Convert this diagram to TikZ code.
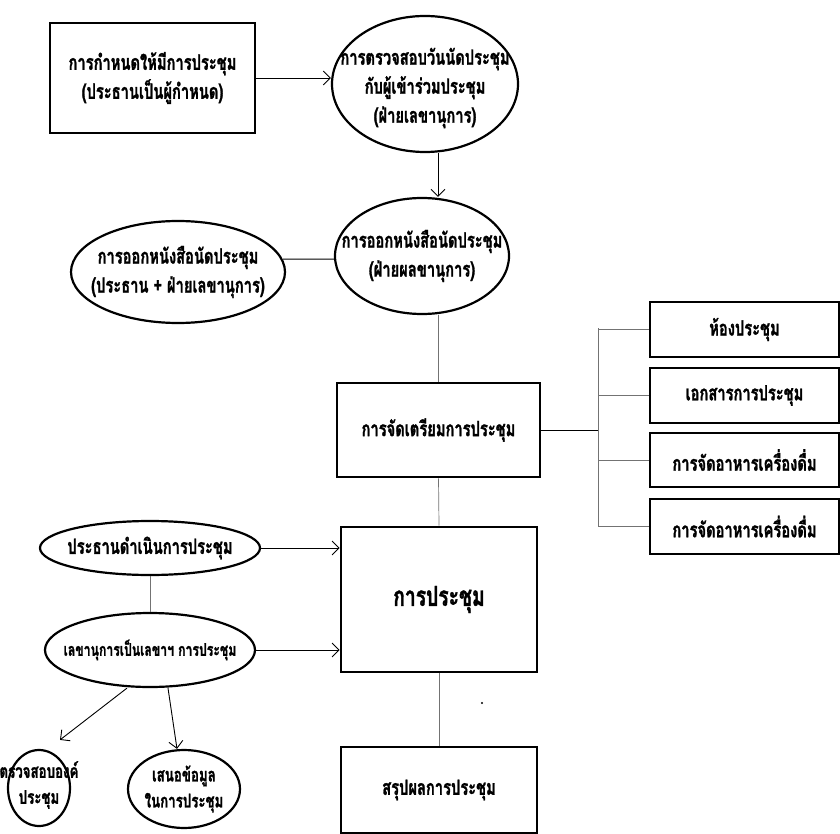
\documentclass[tikz,border=0pt]{standalone}
\usepackage{fontspec}
\newfontfamily\thai[Script=Thai,FakeStretch=0.7,FakeBold=1.3]{Loma}
\usetikzlibrary{shapes.geometric,arrows.meta}
\begin{document}
\begin{tikzpicture}[x=1pt,y=-1pt,
  txt/.style={font=\thai\bfseries\fontsize{21}{29}\selectfont, align=center, inner sep=0pt},
  stxt/.style={font=\thai\bfseries\fontsize{17.5}{26}\selectfont, align=center, inner sep=0pt},
  mtxt/.style={font=\thai\bfseries\fontsize{19}{26}\selectfont, align=center, inner sep=0pt},
  box/.style={draw, line width=2.6pt, rectangle, inner sep=0pt, txt},
  ell/.style={draw, line width=2.2pt, ellipse, inner sep=0pt},
  arr/.style={-{Straight Barb[length=7pt,width=14pt]}, line width=0.9pt},
  ln/.style={line width=0.9pt},
  gl/.style={line width=0.7pt, draw=black!55}]
\useasboundingbox (0,0) rectangle (840,834);

% top row
\node[box, minimum width=205pt, minimum height=110pt] (b1) at (152.5,78)
  {การกำหนดให้มีการประชุม\\(ประธานเป็นผู้กำหนด)};
\node[ell, minimum width=186pt, minimum height=136pt,
  label={[txt,yshift=-4pt]center:{การตรวจสอบวันนัดประชุม\\กับผู้เข้าร่วมประชุม\\(ฝ่ายเลขานุการ)}}] (e2) at (425,84) {};

% second row
\node[ell, minimum width=214pt, minimum height=102pt,
  label={[txt]center:{การออกหนังสือนัดประชุม\\(ประธาน + ฝ่ายเลขานุการ)}}] (e4) at (178,272) {};
\node[ell, minimum width=174pt, minimum height=116pt,
  label={[txt]center:{การออกหนังสือนัดประชุม\\(ฝ่ายผลขานุการ)}}] (e3) at (422,256) {};

% preparation
\node[box, minimum width=203pt, minimum height=94pt] (b5) at (438.5,430) {การจัดเตรียมการประชุม};

% right list
\node[box, minimum width=189pt, minimum height=55pt] (r1) at (744.5,329.5) {ห้องประชุม};
\node[box, minimum width=189pt, minimum height=55pt] (r2) at (744.5,395.5) {เอกสารการประชุม};
\node[box, minimum width=189pt, minimum height=54pt] (r3) at (744.5,460) {การจัดอาหารเครื่องดื่ม};
\node[box, minimum width=189pt, minimum height=55pt] (r4) at (744.5,526.5) {การจัดอาหารเครื่องดื่ม};
\coordinate (bt) at (598,328);
\coordinate (bb) at (598,527);

% meeting
\node[box, minimum width=196pt, minimum height=145pt, font=\thai\bfseries\fontsize{27.5}{29}\selectfont] (bm) at (439,599.5) {การประชุม};
\node[box, minimum width=196pt, minimum height=86pt] (bf) at (439,790) {สรุปผลการประชุม};

% left lower
\node[ell, minimum width=220pt, minimum height=54pt,
  label={[txt]center:{ประธานดำเนินการประชุม}}] (e6) at (150,548) {};
\node[ell, minimum width=210pt, minimum height=74pt,
  label={[stxt]center:{เลขานุการเป็นเลขาฯ การประชุม}}] (e7) at (150,650) {};
\node[ell, minimum width=62pt, minimum height=76pt,
  label={[mtxt,yshift=3pt]center:{ตรวจสอบองค์\\ประชุม}}] (e8) at (39,788) {};
\node[ell, minimum width=112pt, minimum height=78pt,
  label={[mtxt]center:{เสนอข้อมูล\\ในการประชุม}}] (e9) at (184,789) {};

% connectors
\draw[arr] (b1.east) -- (b1.east -| e2.west);
\draw[arr] ([xshift=13pt]e2.south) -- ([xshift=16pt]e3.north);
\draw[ln] (e4.7) -- (e3.182);
\draw[gl] (e3.south -| b5.north) -- (b5.north);
\draw[ln] (b5.east) -- (b5.east -| bt);
\draw[gl] (bt) -- (bb);
\draw[gl] (r1.west -| bt) -- (r1.west);
\draw[gl] (r2.west -| bt) -- (r2.west);
\draw[gl] (r3.west -| bt) -- (r3.west);
\draw[gl] (r4.west -| bt) -- (r4.west);
\draw[gl] (b5.south) -- (bm.north);
\draw[gl] (bm.south) -- (bf.north);
\draw[arr] (e6.east) -- (e6.east -| bm.west);
\draw[arr] (e7.east) -- (e7.east -| bm.west);
\draw[gl] (e6.south) -- (e7.north);
\draw[arr] ([xshift=-23pt]e7.south) -- ([xshift=21pt,yshift=9pt]e8.north);
\draw[arr] ([xshift=18pt]e7.south) -- ([xshift=-7pt]e9.north);
\fill (482,703) circle (1.2pt);
\end{tikzpicture}
\end{document}
